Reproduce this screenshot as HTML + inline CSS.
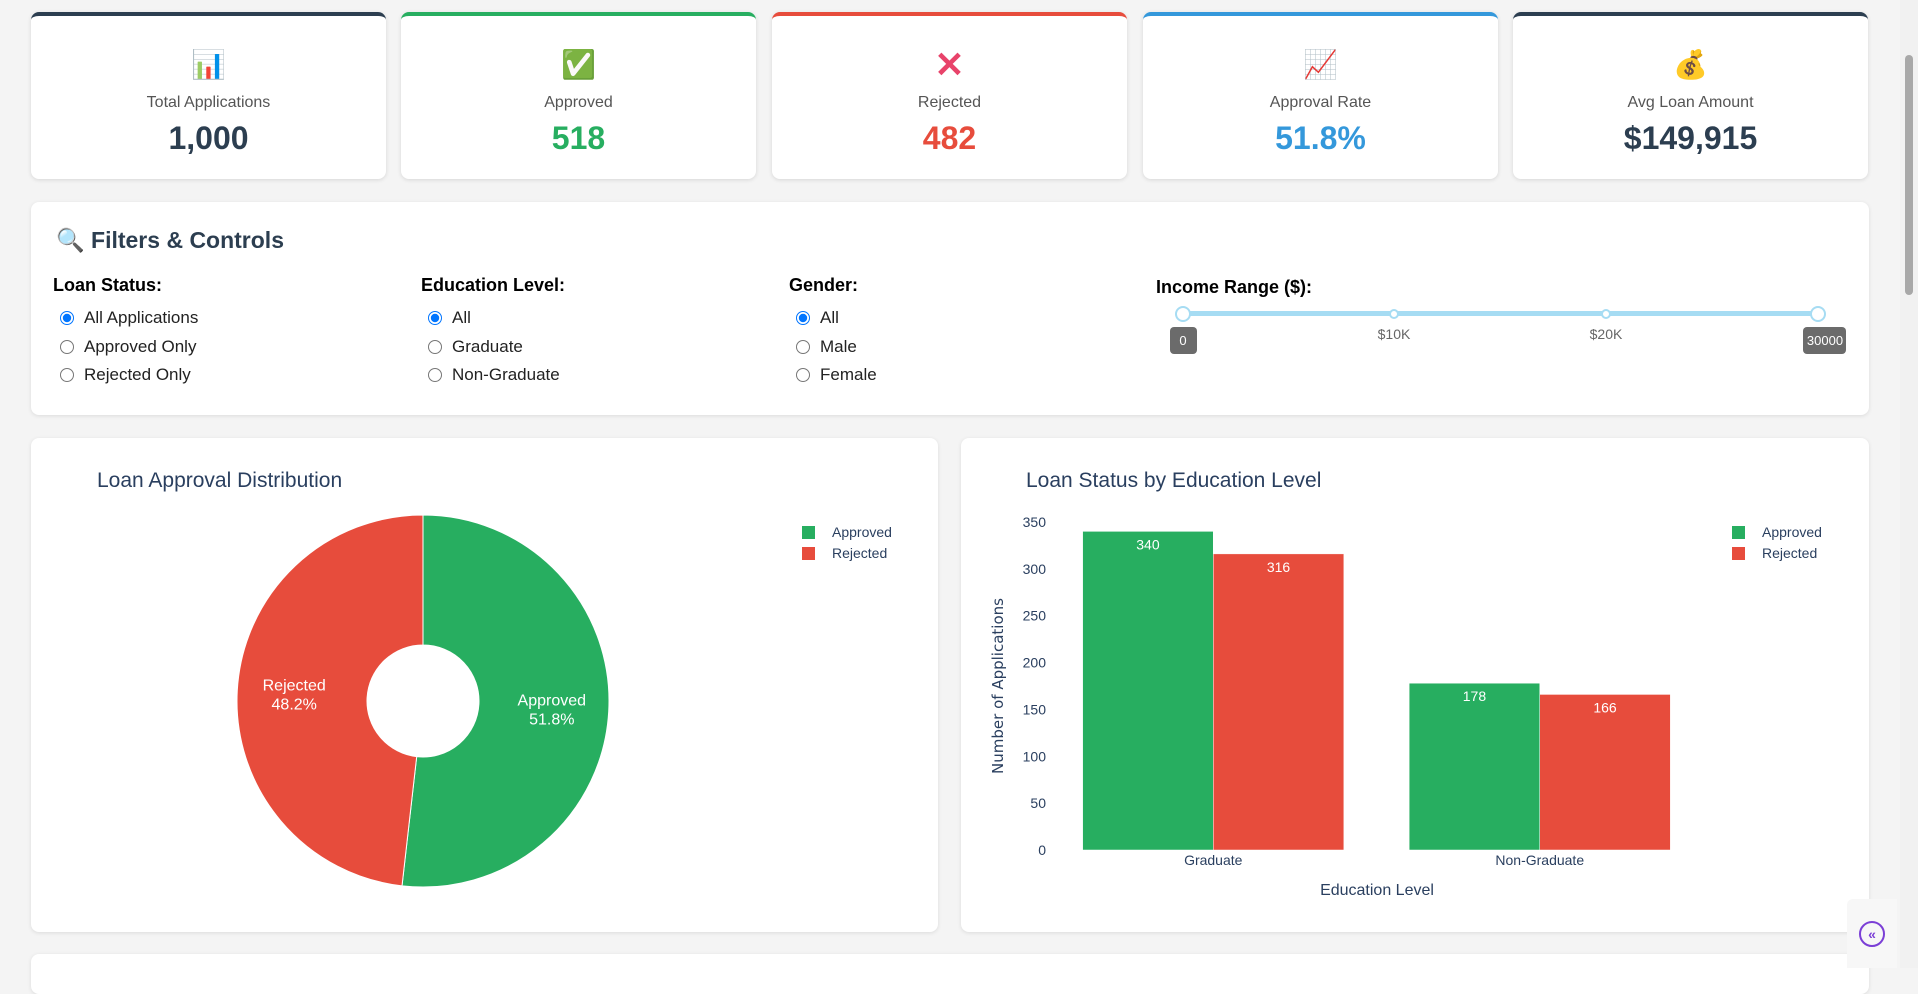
<!DOCTYPE html>
<html><head><meta charset="utf-8">
<style>
*{box-sizing:border-box;margin:0;padding:0}
body{width:1918px;height:968px;overflow:hidden;background:#f4f4f4;font-family:"Liberation Sans",sans-serif;position:relative;color:#2c3e50}
.card{position:absolute;top:12px;width:355px;height:167px;background:#fff;border-radius:8px;box-shadow:0 1px 4px rgba(0,0,0,.12);border-top:4px solid #2c3e50;text-align:center}
.card .ic{position:absolute;top:34px;left:0;right:0;font-size:28px;line-height:30px}
.card .lb{position:absolute;top:78px;left:0;right:0;font-size:16px;color:#555}
.card .vl{position:absolute;top:104px;left:0;right:0;font-size:32px;font-weight:bold}
.panel{position:absolute;background:#fff;border-radius:8px;box-shadow:0 1px 4px rgba(0,0,0,.1)}
.col{position:absolute;top:275px}
.col h4{font-size:18px;color:#000;margin-bottom:8px}
.col label{display:flex;align-items:center;height:28.5px;font-size:17px;color:#222}
.col input{width:14px;height:14px;margin:0 10px 0 7px}
</style></head><body>
<div class="card" style="left:31px;border-top-color:#2c3e50"><div class="ic">📊</div><div class="lb">Total Applications</div><div class="vl" style="color:#2c3e50">1,000</div></div>
<div class="card" style="left:401px;border-top-color:#27ae60"><div class="ic">✅</div><div class="lb">Approved</div><div class="vl" style="color:#27ae60">518</div></div>
<div class="card" style="left:772px;border-top-color:#e74c3c"><div class="ic" style="color:#e8436a;font-weight:bold;font-size:36px">✕</div><div class="lb">Rejected</div><div class="vl" style="color:#e74c3c">482</div></div>
<div class="card" style="left:1143px;border-top-color:#3498db"><div class="ic">📈</div><div class="lb">Approval Rate</div><div class="vl" style="color:#3498db">51.8%</div></div>
<div class="card" style="left:1513px;border-top-color:#2c3e50"><div class="ic">💰</div><div class="lb">Avg Loan Amount</div><div class="vl" style="color:#2c3e50">$149,915</div></div>

<div class="panel" style="left:31px;top:202px;width:1838px;height:213px"></div>
<div style="position:absolute;left:56px;top:227px;font-size:23px;font-weight:bold;color:#2c3e50">🔍 Filters &amp; Controls</div>
<div class="col" style="left:53px"><h4>Loan Status:</h4>
<label><input type="radio" name="a" checked>All Applications</label>
<label><input type="radio" name="a">Approved Only</label>
<label><input type="radio" name="a">Rejected Only</label></div>
<div class="col" style="left:421px"><h4>Education Level:</h4>
<label><input type="radio" name="b" checked>All</label>
<label><input type="radio" name="b">Graduate</label>
<label><input type="radio" name="b">Non-Graduate</label></div>
<div class="col" style="left:789px"><h4>Gender:</h4>
<label><input type="radio" name="c" checked>All</label>
<label><input type="radio" name="c">Male</label>
<label><input type="radio" name="c">Female</label></div>
<div style="position:absolute;left:1156px;top:277px;font-size:18px;font-weight:bold;color:#000">Income Range ($):</div>
<svg style="position:absolute;left:1160px;top:300px" width="700" height="60">
<rect x="23" y="11" width="635" height="5" fill="#a6dcf3"/>
<circle cx="234" cy="14" r="4" fill="#fff" stroke="#a6dcf3" stroke-width="2"/>
<circle cx="446" cy="14" r="4" fill="#fff" stroke="#a6dcf3" stroke-width="2"/>
<circle cx="23" cy="14" r="7" fill="#fff" stroke="#a6dcf3" stroke-width="2"/>
<circle cx="658" cy="14" r="7" fill="#fff" stroke="#a6dcf3" stroke-width="2"/>
<text x="234" y="39" font-size="14" fill="#666" text-anchor="middle" font-family="Liberation Sans">$10K</text>
<text x="446" y="39" font-size="14" fill="#666" text-anchor="middle" font-family="Liberation Sans">$20K</text>
<rect x="10" y="27" width="27" height="27" rx="4" fill="#6b6b6b"/><text x="23" y="45" font-size="13" fill="#fff" text-anchor="middle" font-family="Liberation Sans">0</text>
<rect x="643" y="27" width="43" height="27" rx="4" fill="#6b6b6b"/><text x="665" y="45" font-size="13" fill="#fff" text-anchor="middle" font-family="Liberation Sans">30000</text>
</svg>

<div class="panel" style="left:31px;top:438px;width:907px;height:494px"></div>
<div class="panel" style="left:961px;top:438px;width:908px;height:494px"></div>
<div class="panel" style="left:31px;top:954px;width:1838px;height:40px"></div>
<svg id="charts" style="position:absolute;left:0;top:0" width="1918" height="968" font-family="Liberation Sans"></svg>

<div style="position:absolute;left:1900px;top:0;width:18px;height:968px;background:#f1f1f1"><div style="position:absolute;left:5px;top:55px;width:8px;height:240px;background:#a8a8a8;border-radius:4px"></div></div>
<div style="position:absolute;left:1847px;top:899px;width:50px;height:69px;background:#f7f7f7;border-radius:6px 0 0 0"><div style="position:absolute;left:12px;top:22px;width:26px;height:26px;border:2px solid #7b3fd6;border-radius:50%;color:#7b3fd6;font-size:14px;text-align:center;line-height:22px;font-weight:bold">«</div></div>

<script>
const pieLabels=["Approved","Rejected"];
const pieValues=[518,482];
const colors=["#27ae60","#e74c3c"];
const eduCats=["Graduate","Non-Graduate"];
const approvedVals=[340,178];
const rejectedVals=[316,166];
const yTicks=[0,50,100,150,200,250,300,350];
const NS="http://www.w3.org/2000/svg";
const svg=document.getElementById('charts');
function mk(t,a,txt){const e=document.createElementNS(NS,t);for(const k in a)e.setAttribute(k,a[k]);if(txt!==undefined)e.textContent=txt;svg.appendChild(e);return e;}
let t=mk('text',{x:97,y:487,'font-size':21,fill:'#2a3f5f'},'Loan Approval Distribution');


const cx=423,cy=701,R=186,r0=56;
const tot=pieValues.reduce((a,b)=>a+b,0);
let ang=0;
pieValues.forEach((v,i)=>{
 const a0=ang,a1=ang+v/tot*2*Math.PI;ang=a1;
 const p=(a,rr)=>[cx+rr*Math.sin(a),cy-rr*Math.cos(a)];
 const [x0,y0]=p(a0,R),[x1,y1]=p(a1,R),[x2,y2]=p(a1,r0),[x3,y3]=p(a0,r0);
 const lg=(a1-a0)>Math.PI?1:0;
 const s=mk('path',{d:`M${x0},${y0}A${R},${R} 0 ${lg} 1 ${x1},${y1}L${x2},${y2}A${r0},${r0} 0 ${lg} 0 ${x3},${y3}Z`,fill:colors[i],stroke:'#fff','stroke-width':1});
 
 
 const m=(a0+a1)/2,[lx,ly]=p(m,(R+r0)/2+8);
 mk('text',{x:lx,y:ly-3,'font-size':16,fill:'#fff','text-anchor':'middle'},pieLabels[i]);
 mk('text',{x:lx,y:ly+16,'font-size':16,fill:'#fff','text-anchor':'middle'},(v/tot*100).toFixed(1)+'%');
});
function legend(x,y,nm){pieLabels.forEach((l,i)=>{
 const r=mk('rect',{x:x,y:y+i*21-6,width:13,height:13,fill:colors[i]});
 
 
 mk('text',{x:x+30,y:y+i*21+5,'font-size':14,fill:'#2a3f5f'},l);});}
legend(802,532,'pie');
t=mk('text',{x:1026,y:487,'font-size':21,fill:'#2a3f5f'},'Loan Status by Education Level');


const X0=1050,X1=1703,Y0=850,Y1=522,YMAX=350;
const ys=v=>Y0-(v/YMAX)*(Y0-Y1);
const band=(X1-X0)/eduCats.length;
yTicks.forEach(v=>{mk('text',{x:1046,y:ys(v)+5,'font-size':14,fill:'#2a3f5f','text-anchor':'end'},v);});
const series=[approvedVals,rejectedVals];
eduCats.forEach((c,i)=>{
 const cxb=X0+band*(i+0.5),bw=band*0.8/2;
 series.forEach((vals,j)=>{
  const x=cxb-band*0.4+j*bw;
  const b=mk('rect',{x:x,y:ys(vals[i]),width:bw,height:Y0-ys(vals[i]),fill:colors[j],stroke:'#fff','stroke-width':0.5});
  
  
  mk('text',{x:x+bw/2,y:ys(vals[i])+18,'font-size':14,fill:'#fff','text-anchor':'middle'},vals[i]);
 });
 mk('text',{x:cxb,y:Y0+15,'font-size':14,fill:'#2a3f5f','text-anchor':'middle'},c);
});
t=mk('text',{x:1377,y:895,'font-size':16,fill:'#2a3f5f','text-anchor':'middle'},'Education Level');


t=mk('text',{x:0,y:0,'font-size':15,fill:'#2a3f5f','text-anchor':'middle','font-family':'DejaVu Sans',transform:'translate(1003,686) rotate(-90)'},'Number of Applications');


legend(1732,532,'bar');
</script>
</body></html>
